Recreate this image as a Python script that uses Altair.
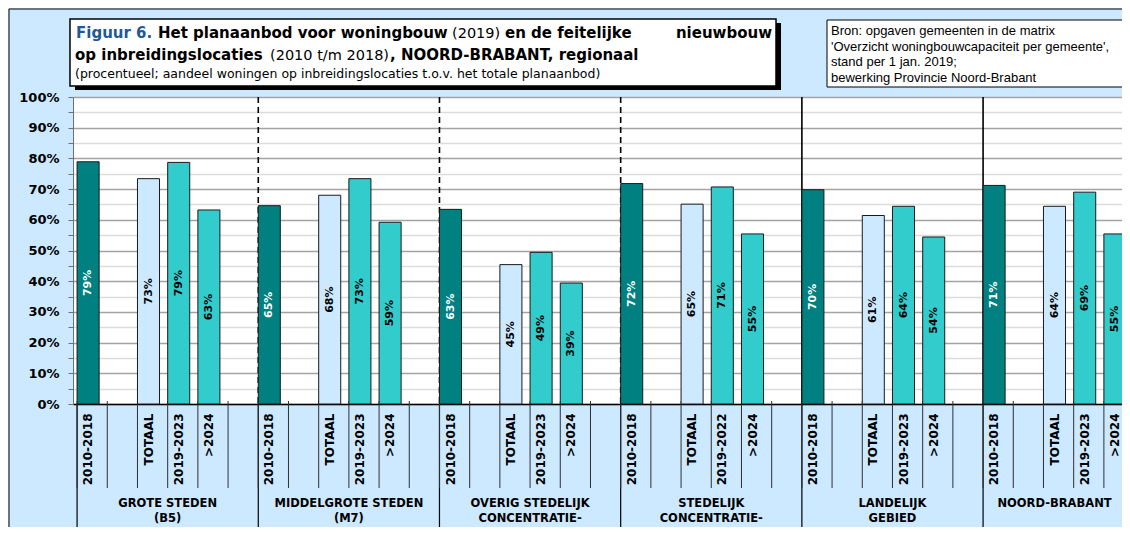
import altair as alt
import pandas as pd

# ---------------- data ----------------
GROUP_LABELS = [
    "GROTE STEDEN\n(B5)",
    "MIDDELGROTE STEDEN\n(M7)",
    "OVERIG STEDELIJK\nCONCENTRATIE-\nGEBIED",
    "STEDELIJK\nCONCENTRATIE-\nGEBIED",
    "LANDELIJK\nGEBIED",
    "NOORD-BRABANT",
]
PERIOD_LABELS = [
    ["2010-2018", "TOTAAL", "2019-2023", ">2024"],
    ["2010-2018", "TOTAAL", "2019-2023", ">2024"],
    ["2010-2018", "TOTAAL", "2019-2023", ">2024"],
    ["2010-2018", "TOTAAL", "2019-2022", ">2024"],
    ["2010-2018", "TOTAAL", "2019-2023", ">2024"],
    ["2010-2018", "TOTAAL", "2019-2023", ">2024"],
]
SERIES = ["nieuwbouw 2010-2018", "planaanbod totaal", "planaanbod 2019-2023", "planaanbod >2024"]
V_NIEUWBOUW_2010_2018 = [78.9, 64.6, 63.4, 71.8, 69.8, 71.2]
V_PLAN_TOTAAL = [73.4, 68.0, 45.4, 65.1, 61.4, 64.4]
V_PLAN_2019_2023 = [78.7, 73.4, 49.4, 70.7, 64.4, 69.0]
V_PLAN_2024 = [63.2, 59.2, 39.4, 55.4, 54.4, 55.4]
SEPARATOR_KIND = ["edge", "dash", "dash", "dash", "solid", "thick"]

SERIES_VALUES = [V_NIEUWBOUW_2010_2018, V_PLAN_TOTAAL, V_PLAN_2019_2023, V_PLAN_2024]

# ---------------- tables ----------------
slots = []
bar_rows = []
first_slots = []
group_rows = []
n_groups = len(PERIOD_LABELS)
for g, periods in enumerate(PERIOD_LABELS):
    keys = [f"{g}|{periods[0]}", f"{g}|_a", f"{g}|{periods[1]}",
            f"{g}|{periods[2]}", f"{g}|{periods[3]}"]
    if g < n_groups - 1:
        keys.append(f"{g}|_b")
    slots.extend(keys)
    first_slots.append(keys[0])
    # anchor of the group label: middle of the group's slots
    if len(keys) % 2 == 0:
        group_rows.append({"slot": keys[len(keys) // 2], "name": GROUP_LABELS[g], "even": True})
    else:
        group_rows.append({"slot": keys[len(keys) // 2], "name": GROUP_LABELS[g], "even": False})
    bar_keys = [keys[0], keys[2], keys[3], keys[4]]
    for s, vals in enumerate(SERIES_VALUES):
        v = vals[g]
        bar_rows.append({"slot": bar_keys[s], "value": v, "mid": v / 2,
                         "series": SERIES[s], "dark": s == 0,
                         "label": f"{round(v)}%"})

bars_df = pd.DataFrame(bar_rows)
slots_df = pd.DataFrame({"slot": slots})
bounds_df = pd.DataFrame({"slot": first_slots, "kind": SEPARATOR_KIND})
groups_df = pd.DataFrame(group_rows)
ONE = pd.DataFrame({"k": [0]})

# ---------------- layout ----------------
W = 1049          # visible plot width (page is cut at the right edge)
SLOT_W = 30.2
FULL_W = SLOT_W * len(slots)
H = 307
BOLD_FONT = "DejaVu Sans"

xscale = alt.Scale(type="band", domain=slots, range=[0, FULL_W],
                   paddingInner=0.27, paddingOuter=0.135)
yscale = alt.Scale(domain=[0, 100], nice=False)

x_axis = alt.Axis(
    title=None,
    labelExpr="indexof(datum.value, '|_') >= 0 ? '' : split(datum.value, '|')[1]",
    labelAngle=-90, labelFont=BOLD_FONT, labelFontWeight="bold", labelFontSize=12,
    labelColor="black", labelPadding=9, ticks=False, domain=True,
    domainColor="black", domainWidth=1.5, grid=False, labelOverlap=False,
)
y_axis = alt.Axis(
    title=None, values=list(range(0, 101, 5)),
    labelExpr="datum.value % 10 == 0 ? datum.value + '%' : ''",
    grid=True,
    gridColor={"condition": {"test": "datum.value % 10 == 0", "value": "#a3a3a3"}, "value": "#dcdcdc"},
    gridWidth=1.5, tickSize=5, tickColor="#707070", domainColor="#707070",
    labelFont=BOLD_FONT, labelFontWeight="bold", labelFontSize=13,
    labelColor="black", labelPadding=9,
)


def X(**kw):
    return alt.X("slot:N", scale=xscale, axis=x_axis, **kw)


def Y(field):
    return alt.Y(field, scale=yscale, axis=y_axis)


frame = alt.Chart(ONE).mark_rect(fill=None, stroke="black", strokeWidth=1).encode(
    x=alt.value(-64), x2=alt.value(3000), y=alt.value(-88), y2=alt.value(3000))

title_shadow = alt.Chart(ONE).mark_rect(fill="black").encode(
    x=alt.value(2), x2=alt.value(708), y=alt.value(-74), y2=alt.value(-7))
title_box = alt.Chart(ONE).mark_rect(fill="white", stroke="black", strokeWidth=1.5).encode(
    x=alt.value(-3), x2=alt.value(703), y=alt.value(-78), y2=alt.value(-11))
source_box = alt.Chart(ONE).mark_rect(fill="white", stroke="black", strokeWidth=1).encode(
    x=alt.value(754), x2=alt.value(1050), y=alt.value(-77), y2=alt.value(-10))


def txt(text, x, y, size, bold=True, color="black", align="left", font=BOLD_FONT, **kw):
    return alt.Chart(ONE).mark_text(
        text=text, align=align, baseline="alphabetic", font=font, fontSize=size,
        fontWeight="bold" if bold else "normal", color=color, **kw,
    ).encode(x=alt.value(x), y=alt.value(y))


title_texts = [
    txt("Figuur 6.", 3, -59, 15, color="#1f5a96"),
    txt("Het planaanbod voor woningbouw", 85, -59, 15),
    txt("(2019)", 379, -59, 14.5, bold=False),
    txt("en de feitelijke", 432, -59, 15),
    txt("nieuwbouw", 699, -59, 15, align="right"),
    txt("op inbreidingslocaties", 2, -37, 15),
    txt("(2010 t/m 2018)", 197, -37, 14.5, bold=False),
    txt(", NOORD-BRABANT, regionaal", 317, -37, 15),
    txt("(procentueel; aandeel woningen op inbreidingslocaties t.o.v. het totale planaanbod)",
        2, -19, 12.5, bold=False),
    txt("Bron: opgaven gemeenten in de matrix\n'Overzicht woningbouwcapaciteit per gemeente',\n"
        "stand per 1 jan. 2019;\nbewerking Provincie Noord-Brabant",
        758, -62, 13, bold=False, font="Liberation Sans", lineBreak="\n", lineHeight=15.7),
]

separators = alt.Chart(bounds_df).transform_filter("datum.kind != 'edge'").mark_rule(color="black").encode(
    x=X(bandPosition=0), y=alt.value(0), y2=alt.value(H),
    strokeDash=alt.StrokeDash("kind:N", scale=alt.Scale(domain=["dash", "solid", "thick"],
                              range=[[6, 4], [1, 0], [1, 0]]), legend=None),
    strokeWidth=alt.StrokeWidth("kind:N", scale=alt.Scale(domain=["dash", "solid", "thick"],
                                range=[1.6, 1.6, 2.6]), legend=None),
)
lower_bounds = alt.Chart(bounds_df).mark_rule(color="black", strokeWidth=1.2).encode(
    x=X(bandPosition=0), y=alt.value(H), y2=alt.value(H + 300))
slot_ticks = alt.Chart(slots_df).mark_rule(color="#303030", strokeWidth=1).encode(
    x=X(bandPosition=0), y=alt.value(H - 3), y2=alt.value(H + 84))

bars = alt.Chart(bars_df).mark_bar(stroke="#1a1a1a", strokeWidth=1).encode(
    x=X(),
    y=Y("value:Q"),
    color=alt.Color("series:N", scale=alt.Scale(domain=SERIES,
                    range=["#008080", "#cce9ff", "#33cccc", "#33cccc"]), legend=None),
)
bar_labels = alt.Chart(bars_df).mark_text(
    angle=270, align="center", baseline="middle", font=BOLD_FONT, fontWeight="bold", fontSize=11,
).encode(
    x=X(), y=Y("mid:Q"), text="label:N",
    color=alt.condition("datum.dark", alt.value("white"), alt.value("black")),
)


def group_text(even):
    return alt.Chart(groups_df).transform_filter(
        "datum.even" if even else "!datum.even"
    ).mark_text(
        align="center", baseline="alphabetic", font=BOLD_FONT, fontWeight="bold", fontSize=11.5,
        lineBreak="\n", lineHeight=15, color="black",
    ).encode(x=X(bandPosition=0 if even else 0.5), y=alt.value(H + 103), text="name:N")


chart = alt.layer(
    frame, title_shadow, title_box, source_box, *title_texts,
    separators, lower_bounds, slot_ticks, bars, bar_labels,
    group_text(True), group_text(False),
).properties(
    width=W, height=H,
    autosize=alt.AutoSizeParams(type="none"),
    padding={"left": 65, "top": 89, "right": 0, "bottom": 123},
    background="#cce9ff",
).configure_view(fill="white", stroke=None)

chart.save("out.html", embed_options={"renderer": "svg", "actions": False})
